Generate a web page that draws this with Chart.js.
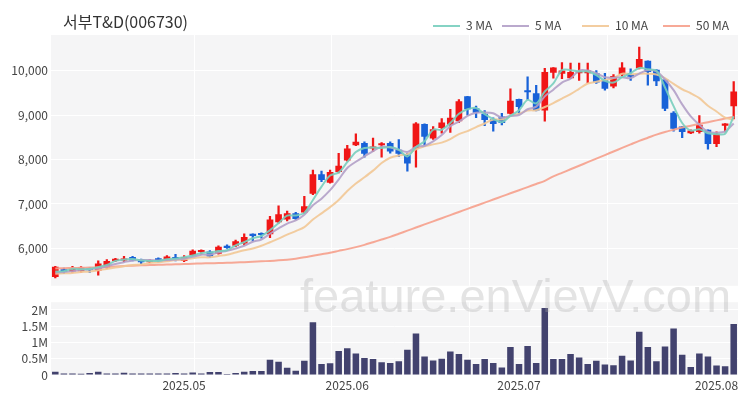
<!DOCTYPE html>
<html>
<head>
<meta charset="utf-8">
<script src="https://cdn.jsdelivr.net/npm/chart.js@4.4.0/dist/chart.umd.min.js"></script>
<style>
    body { margin: 0; background: #fff; }
    #wrap { position: relative; width: 750px; height: 400px; font-family: 'Noto Sans CJK KR', 'Noto Sans', sans-serif; }
    #priceCanvas { position: absolute; left: 0; top: 0; }
    #volCanvas { position: absolute; left: 0; top: 292px; }
    #title { position: absolute; left: 63px; top: 9px; font-size: 16px; line-height: 24px; color: #333; }
    .lg { position: absolute; top: 16px; height: 18px; font-size: 12px; line-height: 18px; color: #444; white-space: nowrap; }
    .lg i { display: inline-block; width: 27px; height: 2px; vertical-align: middle; margin-right: 6px; position: relative; top: -1px; }
    #wm { position: absolute; left: 300px; top: 268px; font: 47px 'Liberation Sans', sans-serif; color: rgba(170,170,170,0.32); pointer-events: none; white-space: nowrap; }
</style>
</head>
<body>
<div id="wrap">
    <canvas id="priceCanvas" width="750" height="296"></canvas>
    <canvas id="volCanvas" width="750" height="108"></canvas>
    <div id="title">서부T&amp;D(006730)</div>
    <div id="legendBox"></div>
    <div id="wm">feature.enVievV.com</div>
</div>
<script>
// trading days shown on the chart
const dates = [
    '2025-04-10','2025-04-11','2025-04-14','2025-04-15','2025-04-16','2025-04-17','2025-04-18','2025-04-21','2025-04-22','2025-04-23',
    '2025-04-24','2025-04-25','2025-04-28','2025-04-29','2025-04-30','2025-05-02','2025-05-07','2025-05-08','2025-05-09','2025-05-12',
    '2025-05-13','2025-05-14','2025-05-15','2025-05-16','2025-05-19','2025-05-20','2025-05-21','2025-05-22','2025-05-23','2025-05-26',
    '2025-05-27','2025-05-28','2025-05-29','2025-05-30','2025-06-02','2025-06-03','2025-06-04','2025-06-05','2025-06-09','2025-06-10',
    '2025-06-11','2025-06-12','2025-06-13','2025-06-16','2025-06-17','2025-06-18','2025-06-19','2025-06-20','2025-06-23','2025-06-24',
    '2025-06-25','2025-06-26','2025-06-27','2025-06-30','2025-07-01','2025-07-02','2025-07-03','2025-07-04','2025-07-07','2025-07-08',
    '2025-07-09','2025-07-10','2025-07-11','2025-07-14','2025-07-15','2025-07-16','2025-07-17','2025-07-18','2025-07-21','2025-07-22',
    '2025-07-23','2025-07-24','2025-07-25','2025-07-28','2025-07-29','2025-07-30','2025-07-31','2025-08-01','2025-08-04','2025-08-05'
];

const openP = [
    5360,5530,5480,5490,5530,5500,5570,5720,5730,5810, 5750,5690,5780,5730,5810,5720,5840,5920,5930,5880,
    6060,6060,6110,6330,6350,6320,6590,6650,6790,6810, 7230,7670,7480,7720,7980,8320,8370,8250,8320,8370,
    8220,8100,8250,8800,8470,8710,8780,8860,9420,9150, 9030,8910,8970,9030,9360,9560,9490,9100,9950,9930,
    9830,9940,9940,9940,9780,9640,9910,9910,10050,10220, 10020,9800,9050,8740,8590,8620,8670,8350,8760,9200
];
const highP = [
    5600,5560,5600,5590,5570,5720,5750,5780,5820,5820, 5760,5750,5790,5840,5870,5840,5970,5970,5950,6060,
    6080,6190,6330,6330,6350,6720,6960,6840,6810,7170, 7760,7740,7760,8140,8320,8580,8400,8480,8380,8400,
    8450,8140,8830,8800,8740,8920,9130,9350,9420,9200, 9100,8940,9040,9590,9360,9860,9670,10050,10070,10180,
    10170,10170,10170,10000,9940,9910,10180,10040,10530,10220, 10020,9800,9080,8740,8670,8990,8670,8620,8810,9750
];
const lowP = [
    5340,5430,5460,5460,5460,5400,5550,5700,5700,5720, 5660,5680,5690,5720,5720,5700,5830,5870,5790,5870,
    6000,6040,6080,6170,6230,6240,6570,6620,6650,6790, 7210,7500,7470,7700,7960,8310,8050,8180,8050,8140,
    8070,7740,7830,8300,8450,8590,8610,8830,9000,8940, 8760,8640,8780,9020,9030,9350,9090,8860,9830,9820,
    9820,9780,9730,9710,9560,9610,9880,9780,10040,9670, 9660,9100,8640,8490,8580,8590,8230,8290,8620,8910
];
const closeP = [
    5590,5470,5550,5570,5510,5660,5720,5770,5770,5730, 5690,5740,5730,5820,5760,5810,5950,5950,5820,6040,
    6010,6160,6260,6280,6300,6650,6770,6790,6660,6950, 7670,7540,7720,7860,8250,8400,8130,8290,8360,8180,
    8130,7910,8810,8510,8680,8830,8940,9310,9130,9050, 8890,8800,8820,9320,9180,9510,9100,9970,10070,10000,
    9970,9980,10000,9730,9590,9880,10070,9860,10260,9970, 9760,9140,8690,8620,8650,8780,8350,8580,8810,9530
];
const volume = [
    100000,50000,50000,40000,60000,100000,50000,50000,70000,50000, 50000,50000,50000,50000,60000,50000,80000,50000,90000,90000,
    30000,60000,100000,120000,120000,470000,410000,220000,130000,440000, 1620000,340000,360000,740000,820000,660000,520000,490000,390000,370000,
    420000,780000,1280000,570000,450000,500000,720000,650000,470000,340000, 490000,370000,230000,860000,340000,890000,370000,2060000,490000,490000,
    650000,540000,340000,440000,320000,300000,590000,450000,1330000,860000, 420000,880000,1430000,620000,250000,660000,570000,290000,270000,1570000
];

// moving averages as they appear on the chart
const ma3 = [
    5480,5490,5540,5530,5540,5580,5630,5720,5750,5760, 5730,5720,5720,5760,5770,5800,5840,5900,5910,5940,
    5960,6070,6140,6230,6280,6410,6570,6740,6740,6800, 7090,7390,7640,7710,7940,8170,8260,8270,8260,8280,
    8220,8070,8280,8410,8670,8670,8820,9030,9130,9160, 9020,8910,8840,8980,9110,9340,9260,9530,9710,10010,
    10010,9980,9980,9900,9770,9730,9850,9940,10060,10030, 10000,9620,9200,8820,8650,8680,8590,8570,8580,8970
];
const ma5 = [
    5460,5470,5490,5520,5540,5550,5600,5650,5690,5730, 5740,5740,5730,5740,5750,5770,5810,5860,5860,5910,
    5950,6000,6060,6150,6200,6330,6450,6560,6630,6760, 6970,7120,7310,7550,7810,7950,8070,8190,8290,8270,
    8220,8170,8280,8310,8410,8550,8750,8850,8980,9050, 9060,9040,8940,8980,9000,9130,9190,9420,9570,9730,
    9820,10000,10000,9940,9850,9840,9850,9830,9930,10010, 9980,9800,9560,9240,8970,8780,8620,8600,8630,8810
];
const ma10 = [
    5430,5440,5450,5470,5480,5510,5540,5570,5600,5630, 5640,5670,5690,5710,5740,5750,5780,5800,5800,5830,
    5860,5910,5960,6000,6060,6140,6220,6310,6390,6480, 6650,6790,6930,7090,7290,7460,7600,7750,7920,8040,
    8090,8120,8230,8300,8340,8380,8460,8570,8640,8730, 8810,8900,8900,8980,9030,9100,9110,9180,9270,9370,
    9470,9590,9710,9750,9790,9830,9930,9920,9930,9930, 9910,9830,9700,9580,9490,9380,9210,9080,8940,8890
];
const ma50 = [
    5550,5555,5560,5565,5570,5578,5585,5595,5605,5612, 5620,5626,5632,5638,5644,5650,5656,5662,5667,5672,
    5678,5684,5692,5700,5710,5720,5732,5748,5770,5800, 5835,5870,5905,5945,5985,6030,6080,6140,6200,6260,
    6330,6400,6470,6540,6610,6680,6750,6820,6890,6960, 7030,7100,7170,7240,7310,7380,7450,7520,7620,7700,
    7780,7860,7940,8020,8100,8180,8260,8340,8420,8490, 8560,8620,8670,8720,8760,8800,8840,8880,8920,8960
];

const priceTicks = [6000, 7000, 8000, 9000, 10000];
const volTicks = [0, 500000, 1000000, 1500000, 2000000];
const volTickLabels = ['0', '0.5M', '1M', '1.5M', '2M'];
// vertical grid lines sit between candles (fractional bar index)
const gridIdx = [16.1, 32.1, 48.2, 64.3];

const maNames = ['3 MA', '5 MA', '10 MA', '50 MA'];
const maColors = ['rgba(120,206,190,0.9)', 'rgba(178,160,200,0.9)', 'rgba(242,200,150,0.9)', 'rgba(246,160,140,0.9)'];
const upColor = '#f01616';
const downColor = '#1862d8';
const volColor = '#42426e';

const candleColors = closeP.map((c, i) => c >= openP[i] ? upColor : downColor);

// plot background + vertical grid lines
const plotDecor = {
    id: 'plotDecor',
    beforeDraw(chart) {
        const { ctx, chartArea: a } = chart;
        ctx.save();
        ctx.fillStyle = '#f5f5f6';
        ctx.fillRect(a.left, a.top, a.width, a.height);
        ctx.restore();
    },
    beforeDatasetsDraw(chart) {
        const { ctx, chartArea: a, scales: { x } } = chart;
        ctx.save();
        ctx.strokeStyle = '#ffffff';
        ctx.lineWidth = 1;
        gridIdx.forEach(v => {
            const px = Math.round(x.getPixelForValue(v)) + 0.5;
            ctx.beginPath();
            ctx.moveTo(px, a.top);
            ctx.lineTo(px, a.bottom);
            ctx.stroke();
        });
        ctx.restore();
    }
};

const tickFont = { family: "'Noto Sans CJK KR', 'Noto Sans', sans-serif", size: 12 };

function maDataset(i, data) {
    return {
        type: 'line',
        label: maNames[i],
        data: data,
        borderColor: maColors[i],
        borderWidth: 2,
        pointRadius: 0,
        tension: 0.3
    };
}

new Chart(document.getElementById('priceCanvas'), {
    type: 'bar',
    data: {
        labels: dates,
        datasets: [
            maDataset(0, ma3),
            maDataset(1, ma5),
            maDataset(2, ma10),
            maDataset(3, ma50),
            {
                label: 'body',
                data: dates.map((d, i) => [openP[i], closeP[i]]),
                backgroundColor: candleColors,
                barPercentage: 0.78,
                categoryPercentage: 1,
                grouped: false,
                minBarLength: 2
            },
            {
                label: 'wick',
                data: dates.map((d, i) => [lowP[i], highP[i]]),
                backgroundColor: candleColors,
                barThickness: 1.6,
                grouped: false
            }
        ]
    },
    options: {
        responsive: false,
        animation: false,
        layout: { padding: { top: 35, bottom: 3, left: 0, right: 12 } },
        plugins: { legend: { display: false }, tooltip: { enabled: false } },
        scales: {
            x: { display: false },
            y: {
                min: 5160,
                max: 10800,
                afterFit(scale) { scale.width = 51; },
                afterBuildTicks(scale) { scale.ticks = priceTicks.map(v => ({ value: v })); },
                grid: { color: '#ffffff', drawTicks: false },
                border: { display: false },
                ticks: {
                    autoSkip: false,
                    padding: 3,
                    color: '#444',
                    font: tickFont,
                    callback: v => v.toLocaleString('en-US')
                }
            }
        }
    },
    plugins: [plotDecor]
});

new Chart(document.getElementById('volCanvas'), {
    type: 'bar',
    data: {
        labels: dates,
        datasets: [{
            label: 'Volume',
            data: volume,
            backgroundColor: volColor,
            barPercentage: 0.76,
            categoryPercentage: 1
        }]
    },
    options: {
        responsive: false,
        animation: false,
        layout: { padding: { top: 0, bottom: 0, left: 0, right: 12 } },
        plugins: { legend: { display: false }, tooltip: { enabled: false } },
        scales: {
            x: {
                afterFit(scale) { scale.height = 25; },
                grid: { display: false, drawTicks: false },
                border: { display: false },
                ticks: {
                    autoSkip: false,
                    maxRotation: 0,
                    padding: 3,
                    color: '#444',
                    font: tickFont,
                    callback: (v, i) => {
                        if (i === 0) return '';
                        const cur = dates[i].slice(0, 7);
                        return cur !== dates[i - 1].slice(0, 7) ? cur.replace('-', '.') : '';
                    }
                }
            },
            y: {
                min: 0,
                max: 2240000,
                afterFit(scale) { scale.width = 51; },
                afterBuildTicks(scale) { scale.ticks = volTicks.map(v => ({ value: v })); },
                grid: { color: '#ffffff', drawTicks: false },
                border: { display: false },
                ticks: {
                    autoSkip: false,
                    padding: 3,
                    color: '#444',
                    font: tickFont,
                    callback: v => volTickLabels[volTicks.indexOf(v)]
                }
            }
        }
    },
    plugins: [plotDecor]
});

// legend row at the top right
const legendLeft = [433, 502, 582, 663];
const legendBox = document.getElementById('legendBox');
maNames.forEach((name, i) => {
    const item = document.createElement('div');
    item.className = 'lg';
    item.style.left = legendLeft[i] + 'px';
    item.innerHTML = `<i style="background:${maColors[i]}"></i>${name}`;
    legendBox.appendChild(item);
});
</script>
</body>
</html>
